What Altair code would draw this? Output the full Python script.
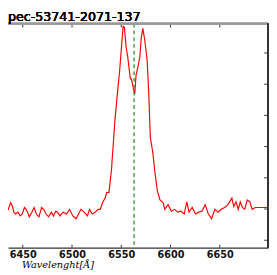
import altair as alt
import pandas as pd

# Spectrum (wavelength in Å, flux in arbitrary units)
wave = [6427.1, 6428.8, 6431.0, 6433.0, 6435.3, 6437.6, 6439.6, 6440.9, 6442.8, 6445.1,
        6447.4, 6449.4, 6451.7, 6453.3, 6454.9, 6456.6, 6459.2, 6461.5, 6463.8, 6466.4,
        6469.1, 6471.3, 6473.6, 6476.2, 6478.9, 6481.2, 6483.4, 6485.4, 6487.7, 6491.0,
        6494.2, 6497.6, 6500.8, 6504.1, 6509.0, 6512.3, 6515.6, 6517.8, 6520.5, 6523.7,
        6526.4, 6528.6, 6531.0, 6533.6, 6535.2, 6537.5, 6540.1, 6543.4, 6546.0, 6548.3,
        6550.7, 6551.9, 6553.2, 6554.9, 6556.5, 6559.1, 6560.5, 6562.5, 6563.7, 6565.0,
        6567.0, 6568.9, 6570.3, 6571.9, 6573.9, 6576.2, 6577.8, 6579.5, 6582.1, 6584.4,
        6586.6, 6589.3, 6592.5, 6594.2, 6597.5, 6600.8, 6604.0, 6607.3, 6610.6, 6613.9,
        6616.5, 6618.8, 6622.0, 6625.4, 6628.6, 6631.9, 6635.2, 6638.4, 6641.7, 6645.0,
        6648.3, 6651.5, 6654.9, 6658.3, 6662.3, 6664.2, 6666.5, 6668.8, 6670.8, 6673.0,
        6675.3, 6677.9, 6680.6, 6682.8, 6686.1, 6689.4, 6692.7, 6695.9, 6697.6, 6700.0]
flux = [0.99, 1.08, 1.05, 1.08, 0.99, 1.20, 1.08, 0.90, 0.84, 0.90,
        0.78, 0.84, 1.05, 0.99, 0.90, 0.75, 0.90, 1.05, 0.84, 0.75,
        1.05, 0.99, 0.84, 0.75, 0.90, 0.78, 0.93, 0.90, 0.78, 0.90,
        0.84, 0.99, 0.78, 0.69, 0.99, 0.90, 0.78, 0.99, 0.84, 0.90,
        0.99, 0.99, 1.20, 1.35, 1.53, 1.53, 2.28, 3.78, 4.68, 5.41,
        6.40, 6.85, 6.82, 6.19, 5.89, 5.20, 5.14, 4.83, 4.68, 5.29,
        5.56, 5.89, 6.49, 6.79, 6.40, 5.80, 4.80, 3.30, 2.79, 2.10,
        1.59, 1.29, 1.20, 0.99, 1.14, 0.93, 0.99, 0.90, 0.93, 0.84,
        1.23, 0.90, 1.05, 0.84, 0.90, 0.93, 1.14, 0.84, 0.69, 0.99,
        0.90, 0.99, 1.05, 1.14, 1.35, 1.08, 1.23, 0.99, 1.23, 1.05,
        0.99, 1.29, 1.23, 0.99, 1.05, 1.05, 1.05, 1.05, 1.05, 1.05]

x_ticks = [6450, 6500, 6550, 6600, 6650]
y_ticks = [0, 1, 2, 3, 4, 5, 6]
line_center = [6563]
title_text = "pec-53741-2071-137"
x_title = "Wavelenght[Å]"

X_DOMAIN = [6435, 6699]
Y_DOMAIN = [-0.24, 6.94]
W, H = 268, 231

df = pd.DataFrame({"wave": wave, "flux": flux})
xt = pd.DataFrame({"t": x_ticks})
yt = pd.DataFrame({"t": y_ticks})
hl = pd.DataFrame({"w": line_center})

xscale = alt.Scale(domain=X_DOMAIN, nice=False, zero=False)
yscale = alt.Scale(domain=Y_DOMAIN, nice=False, zero=False)

xaxis = alt.Axis(
    values=x_ticks, format="d", grid=False, tickSize=0, labelPadding=2,
    labelFont="DejaVu Sans", labelFontSize=10, labelFontWeight="bold", labelColor="#111111",
    domainColor="#333333", domainWidth=1.3,
    title=x_title, titleFont="DejaVu Serif", titleFontStyle="italic",
    titleFontWeight="normal", titleFontSize=10, titleColor="black",
    titleX=51, titleY=20, titleAlign="center", titleBaseline="alphabetic")

spec = alt.Chart(df).mark_line(color="#ff0000", strokeWidth=1.2, clip=True).encode(
    x=alt.X("wave:Q", scale=xscale, axis=xaxis),
    y=alt.Y("flux:Q", scale=yscale, axis=None),
)

vline = alt.Chart(hl).mark_rule(color="#2f8f2f", strokeWidth=1.3, strokeDash=[4, 3]).encode(
    x=alt.X("w:Q", scale=xscale, axis=xaxis)
)

top_ticks = alt.Chart(xt).mark_rule(color="#333333", strokeWidth=1).encode(
    x=alt.X("t:Q", scale=xscale, axis=xaxis), y=alt.value(0), y2=alt.value(4)
)
bot_ticks = alt.Chart(xt).mark_rule(color="#333333", strokeWidth=1).encode(
    x=alt.X("t:Q", scale=xscale, axis=xaxis), y=alt.value(H - 3), y2=alt.value(H)
)
right_ticks = alt.Chart(yt).mark_rule(color="#333333", strokeWidth=1).encode(
    y=alt.Y("t:Q", scale=yscale, axis=None), x=alt.value(W - 4), x2=alt.value(W)
)

top_frame = alt.Chart(xt).mark_rule(color="#999999", strokeWidth=1.6).encode(
    x=alt.value(0), x2=alt.value(W), y=alt.value(0)
)
right_frame = alt.Chart(xt).mark_rule(color="#333333", strokeWidth=1.3).encode(
    x=alt.value(W), y=alt.value(0), y2=alt.value(H)
)

title = alt.Chart(xt).mark_text(
    align="left", baseline="alphabetic", font="DejaVu Sans", fontSize=13, color="black"
).encode(x=alt.value(0), y=alt.value(-3), text=alt.value(title_text))

chart = alt.layer(
    spec, vline, top_ticks, bot_ticks, right_ticks, top_frame, right_frame, title
).properties(
    width=W, height=H,
    autosize=alt.AutoSizeParams(type="none"),
    padding={"left": 0, "top": 12, "right": 1, "bottom": 24},
).configure_view(stroke=None)

chart.save("out.html", embed_options={"renderer": "svg", "actions": False})
